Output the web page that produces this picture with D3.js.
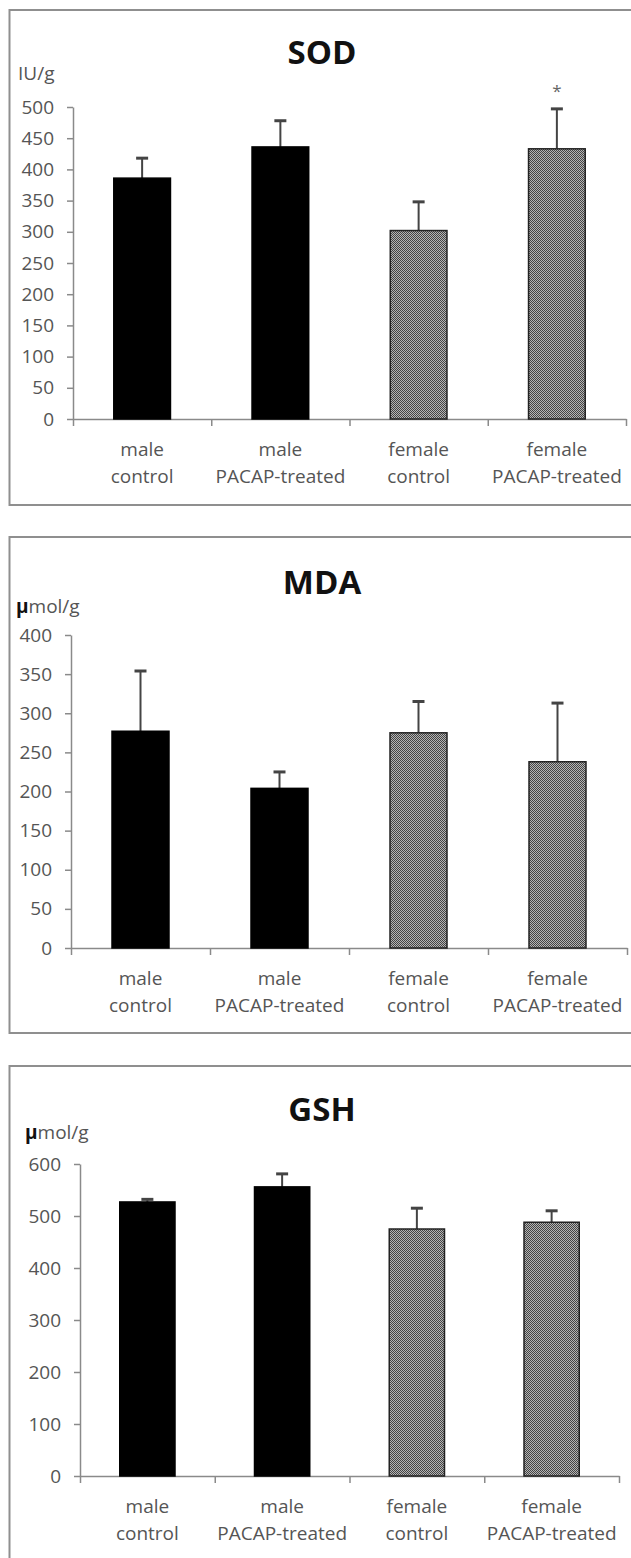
<!DOCTYPE html>
<html>
<head>
<meta charset="utf-8">
<script src="https://cdn.jsdelivr.net/npm/d3@7"></script>
<style>
  body { margin: 0; background: #fff; }
  svg { display: block; font-family: "Open Sans", "DejaVu Sans", sans-serif; }
</style>
</head>
<body>
<div id="chart"></div>
<script>
const width = 631;
const height = 1558;

// data
const groups = ["male control", "male PACAP-treated", "female control", "female PACAP-treated"];
const groupLines = [["male", "control"], ["male", "PACAP-treated"], ["female", "control"], ["female", "PACAP-treated"]];
const groupSex = ["male", "male", "female", "female"];

const sodMeans = [386, 436, 302, 433];
const sodErrors = [32, 42, 46, 64];
const sodMarks = ["", "", "", "*"];
const sodTicks = [0, 50, 100, 150, 200, 250, 300, 350, 400, 450, 500];

const mdaMeans = [277, 204, 275, 238];
const mdaErrors = [77, 21, 40, 75];
const mdaMarks = ["", "", "", ""];
const mdaTicks = [0, 50, 100, 150, 200, 250, 300, 350, 400];

const gshMeans = [527, 556, 475, 488];
const gshErrors = [5, 25, 40, 22];
const gshMarks = ["", "", "", ""];
const gshTicks = [0, 100, 200, 300, 400, 500, 600];

// layout of the three panels
const panels = [
  { title: "SOD", unit: ["", "IU/g"], means: sodMeans, errors: sodErrors, marks: sodMarks, ticks: sodTicks,
    boxTop: 10, boxBottom: 505, x0: 73, x1: 626, yZero: 419, yTop: 107, titleY: 51, unitY: 73 },
  { title: "MDA", unit: ["\u03bc", "mol/g"], means: mdaMeans, errors: mdaErrors, marks: mdaMarks, ticks: mdaTicks,
    boxTop: 537, boxBottom: 1033, x0: 71, x1: 627, yZero: 948, yTop: 635, titleY: 581, unitY: 606 },
  { title: "GSH", unit: ["\u03bc", "mol/g"], means: gshMeans, errors: gshErrors, marks: gshMarks, ticks: gshTicks,
    boxTop: 1066, boxBottom: 1570, x0: 80, x1: 619, yZero: 1476, yTop: 1164, titleY: 1108, unitY: 1132 }
];

const svg = d3.select("#chart")
  .append("svg")
  .attr("width", width)
  .attr("height", height);

// fine checker fill used for female bars
const defs = svg.append("defs");
const pat = defs.append("pattern")
  .attr("id", "checker")
  .attr("patternUnits", "userSpaceOnUse")
  .attr("width", 2)
  .attr("height", 2);
pat.append("rect").attr("width", 2).attr("height", 2).attr("fill", "#b4b4b4");
pat.append("rect").attr("width", 1).attr("height", 1).attr("fill", "#444");
pat.append("rect").attr("x", 1).attr("y", 1).attr("width", 1).attr("height", 1).attr("fill", "#444");

panels.forEach(p => {
  const g = svg.append("g");

  g.append("rect")
    .attr("x", 9.5)
    .attr("y", p.boxTop)
    .attr("width", 640)
    .attr("height", p.boxBottom - p.boxTop)
    .attr("fill", "none")
    .attr("stroke", "#8f8f8f")
    .attr("stroke-width", 2);

  g.append("text")
    .attr("x", 322)
    .attr("y", p.titleY)
    .attr("text-anchor", "middle")
    .attr("dominant-baseline", "central")
    .attr("font-size", 33)
    .attr("font-weight", "bold")
    .attr("fill", "#111")
    .text(p.title);

  const unit = g.append("text")
    .attr("x", p.x0 - 55)
    .attr("y", p.unitY)
    .attr("dominant-baseline", "central")
    .attr("font-size", 19)
    .attr("fill", "#555");
  if (p.unit[0]) {
    unit.append("tspan").attr("font-weight", "bold").attr("fill", "#111").text(p.unit[0]);
  }
  unit.append("tspan").text(p.unit[1]);

  const y = d3.scaleLinear()
    .domain([0, d3.max(p.ticks)])
    .range([p.yZero, p.yTop]);

  const x = d3.scaleBand()
    .domain(groups)
    .range([p.x0, p.x1])
    .paddingInner(0.59)
    .paddingOuter(0.295);

  const xEdges = d3.scaleLinear()
    .domain([0, groups.length])
    .range([p.x0, p.x1]);

  // y axis
  const yAxis = g.append("g")
    .attr("transform", `translate(${p.x0},0)`)
    .call(d3.axisLeft(y).tickValues(p.ticks).tickSize(6).tickSizeOuter(0).tickPadding(13));
  yAxis.selectAll("path, line").attr("stroke", "#8a8a8a").attr("stroke-width", 1.5);
  yAxis.selectAll("text")
    .attr("font-size", 19)
    .attr("font-family", "\"Open Sans\", sans-serif")
    .attr("fill", "#555");

  // x axis with ticks between categories
  const xAxis = g.append("g")
    .attr("transform", `translate(0,${p.yZero})`)
    .call(d3.axisBottom(xEdges).tickValues(d3.range(groups.length + 1)).tickSize(7).tickSizeOuter(0).tickFormat(""));
  xAxis.selectAll("path, line").attr("stroke", "#8a8a8a").attr("stroke-width", 1.5);

  g.selectAll(".xlabel")
    .data(groups)
    .enter()
    .append("text")
    .attr("class", "xlabel")
    .attr("x", d => x(d) + x.bandwidth() / 2)
    .attr("y", p.yZero + 30)
    .attr("text-anchor", "middle")
    .attr("font-size", 19)
    .attr("fill", "#555")
    .each(function(d, i) {
      const t = d3.select(this);
      t.append("tspan").attr("x", x(d) + x.bandwidth() / 2).attr("dy", 0).attr("dominant-baseline", "central").text(groupLines[i][0]);
      t.append("tspan").attr("x", x(d) + x.bandwidth() / 2).attr("dy", 27).attr("dominant-baseline", "central").text(groupLines[i][1]);
    });

  // error bars (upper only)
  g.selectAll(".err")
    .data(groups)
    .enter()
    .append("line")
    .attr("class", "err")
    .attr("x1", d => x(d) + x.bandwidth() / 2)
    .attr("x2", d => x(d) + x.bandwidth() / 2)
    .attr("y1", (d, i) => y(p.means[i]))
    .attr("y2", (d, i) => y(p.means[i] + p.errors[i]))
    .attr("stroke", "#444")
    .attr("stroke-width", 2);

  g.selectAll(".cap")
    .data(groups)
    .enter()
    .append("line")
    .attr("class", "cap")
    .attr("x1", d => x(d) + x.bandwidth() / 2 - 6)
    .attr("x2", d => x(d) + x.bandwidth() / 2 + 6)
    .attr("y1", (d, i) => y(p.means[i] + p.errors[i]))
    .attr("y2", (d, i) => y(p.means[i] + p.errors[i]))
    .attr("stroke", "#444")
    .attr("stroke-width", 3);

  // bars
  g.selectAll(".bar")
    .data(groups)
    .enter()
    .append("rect")
    .attr("class", "bar")
    .attr("x", d => x(d))
    .attr("width", x.bandwidth())
    .attr("y", (d, i) => y(p.means[i]))
    .attr("height", (d, i) => y(0) - y(p.means[i]))
    .attr("fill", (d, i) => groupSex[i] === "male" ? "#000" : "url(#checker)")
    .attr("stroke", (d, i) => groupSex[i] === "male" ? "#000" : "#222")
    .attr("stroke-width", 1.5);

  g.selectAll(".mark")
    .data(groups)
    .enter()
    .append("text")
    .attr("class", "mark")
    .attr("x", d => x(d) + x.bandwidth() / 2)
    .attr("y", (d, i) => y(p.means[i] + p.errors[i]) - 12)
    .attr("text-anchor", "middle")
    .attr("font-size", 17)
    .attr("fill", "#666")
    .text((d, i) => p.marks[i]);
});
</script>
</body>
</html>
